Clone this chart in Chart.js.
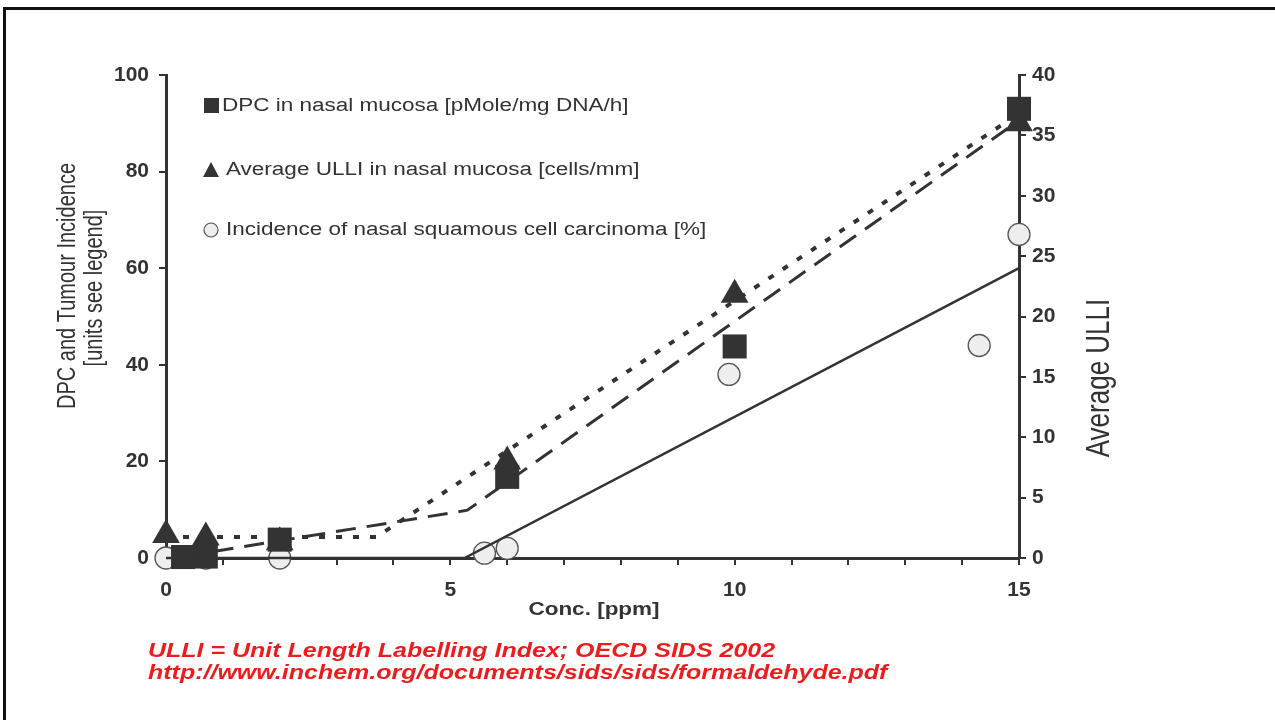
<!DOCTYPE html>
<html>
<head>
<meta charset="utf-8">
<script src="https://cdn.jsdelivr.net/npm/chart.js@4"></script>
<style>
body { margin: 0; background: #fff; }
#wrap { position: relative; width: 1275px; height: 720px; overflow: hidden; }
#frame { position: absolute; left: 3px; top: 7px; width: 1400px; height: 800px;
  border-top: 3px solid #111; border-left: 3px solid #111; pointer-events: none; }
</style>
</head>
<body>
<div id="wrap"><canvas id="ctx" width="1275" height="720"></canvas><div id="frame"></div></div>
<script>
// measured points
const concDPC = [0.3, 0.7, 2, 6, 10, 15];
const dpc = [0.2, 0.3, 3.8, 16.8, 43.8, 93];
const concULLI = [0, 0.7, 2, 6, 10, 15];
const ulli = [1.9, 1.7, 1.3, 8.0, 21.8, 36.0];
const concTumour = [0, 0.7, 2, 5.6, 6, 9.9, 14.3, 15];
const tumour = [0, 0, 0, 1.0, 2.0, 38, 44, 67];

// fitted curves
const dpcFitX = [0.3, 5.3, 15];
const dpcFitY = [0.3, 9.9, 90.6];
const ulliFitX = [0, 3.7, 15];
const ulliFitY = [1.74, 1.74, 36.8];
const tumourFitX = [0, 5.25, 15];
const tumourFitY = [0, 0, 60];

const xTicks = [0, 5, 10, 15];

const labels = [
    'DPC in nasal mucosa [pMole/mg DNA/h]',
    'Average ULLI in nasal mucosa [cells/mm]',
    'Incidence of nasal squamous cell carcinoma [%]'
];

const pts = (xs, ys) => xs.map((x, i) => ({x: x, y: ys[i]}));
const ink = '#333333';
const SX = 1.25; // the picture is stretched sideways

function txt(ctx, s, x, y, font, color, align, rot) {
    ctx.save();
    ctx.translate(x, y);
    ctx.scale(SX, 1);
    if (rot) ctx.rotate(rot);
    ctx.font = font;
    ctx.fillStyle = color;
    ctx.textAlign = align || 'left';
    ctx.textBaseline = 'middle';
    ctx.fillText(s, 0, 0);
    ctx.restore();
}

const extras = {
    id: 'extras',
    afterDraw(chart) {
        const ctx = chart.ctx;
        const f = '"Liberation Sans", Arial, sans-serif';
        // legend
        ctx.save();
        ctx.fillStyle = ink;
        ctx.fillRect(204, 98, 15, 15);
        ctx.beginPath();
        ctx.moveTo(211, 162); ctx.lineTo(219, 177); ctx.lineTo(203, 177); ctx.closePath();
        ctx.fill();
        ctx.beginPath();
        ctx.arc(211, 230, 7, 0, Math.PI * 2);
        ctx.fillStyle = '#eeeeee'; ctx.fill();
        ctx.lineWidth = 1.2; ctx.strokeStyle = '#555'; ctx.stroke();
        ctx.restore();
        txt(ctx, labels[0], 222, 106, '18px ' + f, ink);
        txt(ctx, labels[1], 226, 170, '18px ' + f, ink);
        txt(ctx, labels[2], 226, 230, '18px ' + f, ink);
        // axis titles
        txt(ctx, 'DPC and Tumour Incidence', 68, 286, '20px ' + f, ink, 'center', -Math.PI / 2);
        txt(ctx, '[units see legend]', 95, 288, '20px ' + f, ink, 'center', -Math.PI / 2);
        txt(ctx, 'Average ULLI', 1100, 378, '26px ' + f, ink, 'center', -Math.PI / 2);
        txt(ctx, 'Conc. [ppm]', 594, 610, 'bold 18px ' + f, ink, 'center');
        // note
        txt(ctx, 'ULLI = Unit Length Labelling Index; OECD SIDS 2002', 148, 651, 'italic bold 20px ' + f, '#ee1c1c');
        txt(ctx, 'http://www.inchem.org/documents/sids/sids/formaldehyde.pdf', 148, 673, 'italic bold 20px ' + f, '#ee1c1c');
    }
};

const tickFont = {family: 'Liberation Sans', size: 21, weight: 'bold'};

let myChart = new Chart(document.getElementById('ctx'), {
    type: 'scatter',
    data: {
        datasets: [
            {
                label: 'DPC fit', data: pts(dpcFitX, dpcFitY), yAxisID: 'y',
                showLine: true, pointRadius: 0, borderColor: ink, borderWidth: 3,
                borderDash: [20, 11], clip: false
            },
            {
                label: 'ULLI fit', data: pts(ulliFitX, ulliFitY), yAxisID: 'y2',
                showLine: true, pointRadius: 0, borderColor: ink, borderWidth: 4,
                borderDash: [6, 11], clip: false
            },
            {
                label: 'Tumour fit', data: pts(tumourFitX, tumourFitY), yAxisID: 'y',
                showLine: true, pointRadius: 0, borderColor: ink, borderWidth: 2.5, clip: false
            },
            {
                label: labels[0], data: pts(concDPC, dpc), yAxisID: 'y',
                pointStyle: 'rect', pointRadius: 17, backgroundColor: ink, borderColor: ink,
                borderWidth: 0, clip: false
            },
            {
                label: labels[1], data: pts(concULLI, ulli), yAxisID: 'y2',
                pointStyle: 'triangle', pointRadius: 16, backgroundColor: ink, borderColor: ink,
                borderWidth: 0, clip: false
            },
            {
                label: labels[2], data: pts(concTumour, tumour), yAxisID: 'y',
                pointStyle: 'circle', pointRadius: 11, backgroundColor: '#eeeeee', borderColor: '#555',
                borderWidth: 1.3, clip: false
            }
        ]
    },
    options: {
        responsive: false,
        animation: false,
        devicePixelRatio: 1,
        layout: {padding: {left: 0, right: 0, top: 75, bottom: 0}},
        plugins: {legend: {display: false}, tooltip: {enabled: false}},
        scales: {
            x: {
                type: 'linear', position: 'bottom', min: 0, max: 15,
                afterBuildTicks: s => { s.ticks = Array.from({length: 16}, (_, i) => ({value: i})); },
                ticks: {
                    autoSkip: false, maxRotation: 0, padding: 13, color: ink, font: tickFont,
                    callback: v => xTicks.includes(v) ? String(v) : ''
                },
                grid: {drawOnChartArea: false, drawTicks: true, tickLength: 7, color: ink, lineWidth: 2},
                border: {display: true, color: ink, width: 3},
                afterFit: s => { s.height = 162; }
            },
            y: {
                position: 'left', min: 0, max: 100,
                ticks: {stepSize: 20, padding: 10, color: ink, font: tickFont},
                grid: {drawOnChartArea: false, drawTicks: true, tickLength: 7, color: ink, lineWidth: 2},
                border: {display: true, color: ink, width: 3},
                afterFit: s => { s.width = 166; }
            },
            y2: {
                position: 'right', min: 0, max: 40,
                ticks: {stepSize: 5, padding: 6, color: ink, font: tickFont},
                grid: {drawOnChartArea: false, drawTicks: true, tickLength: 7, color: ink, lineWidth: 2},
                border: {display: true, color: ink, width: 3},
                afterFit: s => { s.width = 256; }
            }
        }
    },
    plugins: [extras]
});
</script>
</body>
</html>
